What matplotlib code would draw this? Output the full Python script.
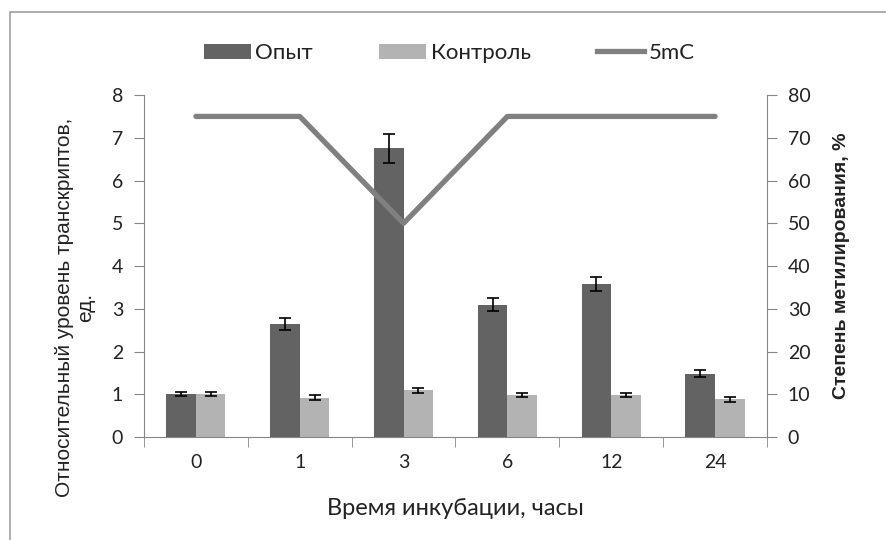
import matplotlib
matplotlib.use("Agg")
import matplotlib.pyplot as plt
import numpy as np
from matplotlib.patches import Patch
from matplotlib.lines import Line2D

categories = ["0", "1", "3", "6", "12", "24"]
opyt = [1.0, 2.65, 6.75, 3.1, 3.58, 1.48]
opyt_err = [0.05, 0.145, 0.33, 0.155, 0.175, 0.08]
kontrol = [1.0, 0.92, 1.09, 0.99, 0.99, 0.88]
kontrol_err = [0.05, 0.06, 0.05, 0.05, 0.05, 0.05]
methyl = [75, 75, 50, 75, 75, 75]

dark = "#636363"
light = "#b3b3b3"
line_col = "#808080"
axis_col = "#868686"
text_col = "#222222"

plt.rcParams["font.family"] = ["Lato", "DejaVu Sans"]
arial = ["Liberation Sans", "DejaVu Sans"]

fig = plt.figure(figsize=(8.86, 5.4), dpi=100)
ax = fig.add_axes([0.1625, 0.1907, 0.7032, 0.6333])
ax2 = ax.twinx()

idx = np.arange(len(categories))
w = 0.285
err_kw = dict(ecolor="black", elinewidth=1.2, capsize=4.5, capthick=1.2)
ax.bar(idx - w/2, opyt, w, yerr=opyt_err, color=dark, error_kw=err_kw, zorder=2)
ax.bar(idx + w/2, kontrol, w, yerr=kontrol_err, color=light, error_kw=err_kw, zorder=2)
ax2.plot(idx, methyl, color=line_col, lw=3.8, solid_capstyle="round", zorder=3)

ax.set_xlim(-0.5, len(categories) - 0.5)
ax.set_ylim(0, 8)
ax2.set_ylim(0, 80)
ax.set_yticks(range(0, 9))
ax2.set_yticks(range(0, 90, 10))
ax.set_xticks(idx)
ax.set_xticklabels(categories)
ax.set_xticks(np.arange(-0.5, len(categories)), minor=True)
ax.tick_params(axis="x", which="major", length=0, pad=12, labelsize=14, labelcolor=text_col)
ax.tick_params(axis="x", which="minor", length=7, color=axis_col, direction="out")
ax.tick_params(axis="y", length=7, color=axis_col, labelsize=14, labelcolor=text_col, pad=8)
ax2.tick_params(axis="y", length=7, color=axis_col, labelsize=14, labelcolor=text_col, pad=8)

for a in (ax, ax2):
  a.spines["top"].set_visible(False)
  for s in ("left", "right", "bottom"):
    a.spines[s].set_color(axis_col)
ax.spines["right"].set_visible(False)
ax2.spines["left"].set_visible(False)
ax2.spines["bottom"].set_visible(False)
ax2.set_zorder(ax.get_zorder() + 1)
ax2.patch.set_visible(False)

ax.set_ylabel("Относительный уровень транскриптов,\nед.", fontsize=15, color=text_col,
              family=arial, linespacing=1.15, ha="center", va="center")
ax.yaxis.set_label_coords(-0.111, 0.38)
ax2.set_ylabel("Степень метилирования, %", fontsize=14, fontweight="bold", color=text_col,
               family=arial, ha="center", va="center")
ax2.yaxis.set_label_coords(1.12, 0.5)
ax.set_xlabel("Время инкубации, часы", fontsize=17, color=text_col, va="center")
ax.xaxis.set_label_coords(0.5, -0.2076)

handles = [
  Patch(facecolor=dark, label="Опыт"),
  Patch(facecolor=light, label="Контроль"),
  Line2D([0], [0], color=line_col, lw=3.8, label="5mC"),
]
fig.legend(handles=handles, loc="center", bbox_to_anchor=(0.507, 0.902), ncol=3,
           frameon=False, fontsize=16, handlelength=2.1, handleheight=0.65,
           handletextpad=0.2, columnspacing=3.0, labelcolor=text_col)

# outer chart frame
fig.add_artist(plt.Rectangle((10/886, -0.1), 1.2, 1 - 12/540 + 0.1, transform=fig.transFigure,
                             fill=False, edgecolor="#a0a0a0", lw=1.2))

fig.savefig("out.png", dpi=100)
